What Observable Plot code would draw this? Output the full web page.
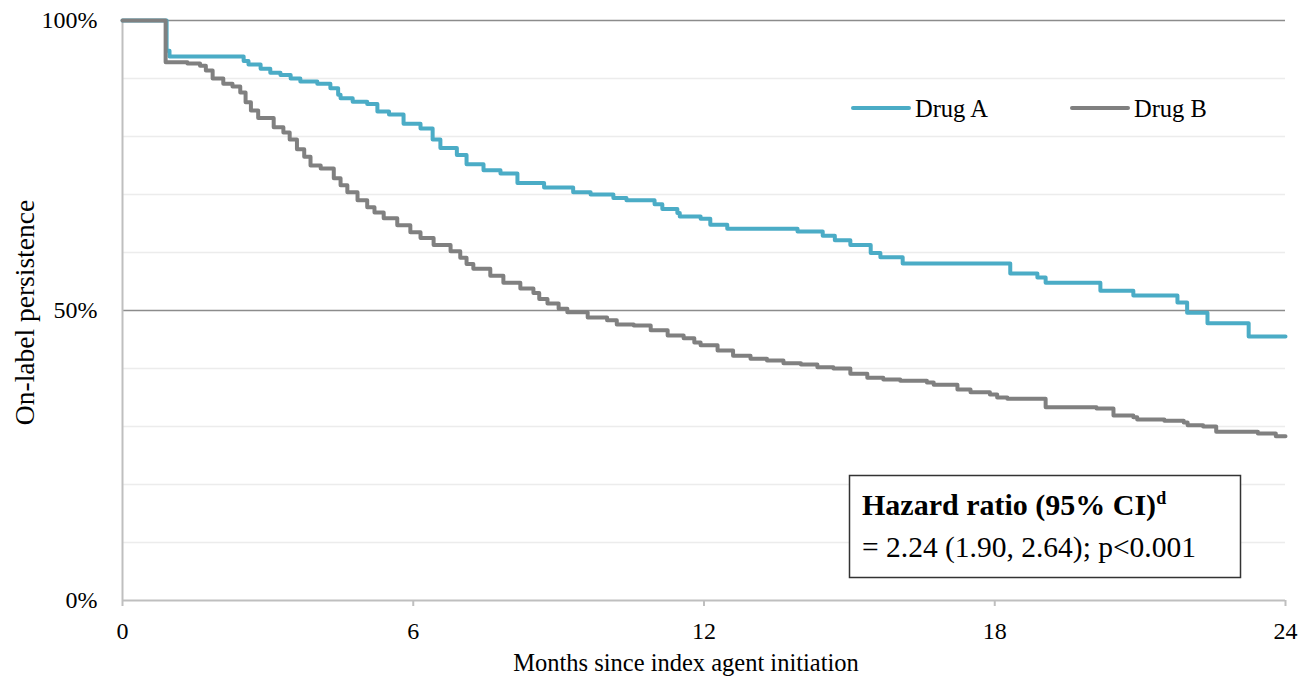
<!DOCTYPE html>
<html>
<head>
<meta charset="utf-8">
<script src="https://cdn.jsdelivr.net/npm/d3@7"></script>
<script src="https://cdn.jsdelivr.net/npm/@observablehq/plot@0.6"></script>
<style>
  html, body { margin: 0; padding: 0; background: #fff; }
  #wrap { position: relative; width: 1301px; height: 679px; font-family: "Liberation Serif", "Times New Roman", serif; }
  #overlay { position: absolute; left: 0; top: 0; pointer-events: none; }
</style>
</head>
<body>
<div id="wrap"></div>
<script>
// ---- data ----
const seriesNames = ["Drug A", "Drug B"];
const seriesColors = ["#4bacc6", "#808080"];

const drugA_months = [0, 0.91, 0.97, 2.5, 2.6, 2.85, 3.05, 3.26, 3.47, 3.67, 4.02, 4.29, 4.45, 4.5, 4.75, 5.05, 5.26, 5.5, 5.8, 6.15, 6.4, 6.56, 6.9, 7.1, 7.45, 7.8, 8.15, 8.7, 9.3, 9.66, 10.13, 10.4, 10.98, 11.14, 11.45, 11.5, 11.93, 12.13, 12.48, 13.93, 14.45, 14.7, 15.02, 15.44, 15.64, 16.1, 18.32, 18.88, 19.05, 20.18, 20.86, 21.77, 21.97, 22.39, 23.24, 24];
const drugA_pct = [100, 94.8, 93.8, 93.0, 92.4, 91.7, 91.0, 90.6, 90.0, 89.5, 89.1, 88.3, 87.2, 86.6, 86.0, 85.6, 84.3, 83.8, 82.2, 81.4, 79.5, 78.0, 76.8, 75.2, 74.2, 73.6, 72.0, 71.2, 70.4, 70.0, 69.4, 69.0, 68.3, 67.5, 66.8, 66.2, 65.8, 64.8, 64.1, 63.6, 62.9, 62.1, 61.3, 59.9, 59.2, 58.1, 56.4, 55.7, 54.8, 53.4, 52.6, 51.4, 49.6, 47.8, 45.5, 45.5];

const drugB_months = [0, 0.89, 1.34, 1.6, 1.72, 1.86, 2.08, 2.27, 2.43, 2.54, 2.65, 2.8, 3.12, 3.32, 3.45, 3.6, 3.75, 3.88, 4.09, 4.36, 4.5, 4.64, 4.85, 5.05, 5.2, 5.39, 5.67, 5.94, 6.15, 6.42, 6.77, 6.97, 7.1, 7.24, 7.59, 7.86, 8.21, 8.48, 8.6, 8.77, 9.0, 9.18, 9.6, 10.0, 10.2, 10.55, 10.9, 11.25, 11.58, 11.8, 11.93, 12.28, 12.6, 12.96, 13.3, 13.64, 14.0, 14.34, 14.67, 15.02, 15.37, 15.7, 16.05, 16.6, 16.74, 17.23, 17.5, 17.9, 18.05, 18.26, 19.05, 20.1, 20.45, 20.86, 20.94, 21.5, 21.9, 21.98, 22.3, 22.57, 23.43, 23.8, 24];
const drugB_pct = [100, 92.8, 92.6, 92.2, 91.4, 90.0, 89.1, 88.6, 87.6, 85.9, 84.5, 83.2, 81.6, 80.7, 79.5, 77.8, 76.5, 75.0, 74.5, 72.8, 71.6, 70.4, 69.0, 67.8, 66.9, 65.9, 64.7, 63.5, 62.5, 61.3, 60.2, 59.1, 58.0, 57.2, 56.0, 54.8, 53.8, 53.0, 52.0, 51.2, 50.3, 49.7, 48.8, 48.3, 47.6, 47.4, 46.6, 45.7, 45.2, 44.5, 44.0, 43.1, 42.2, 41.7, 41.4, 40.9, 40.7, 40.2, 40.0, 39.1, 38.4, 38.1, 37.9, 37.6, 37.2, 36.4, 35.9, 35.5, 35.0, 34.8, 33.3, 33.1, 31.9, 31.6, 31.2, 31.0, 30.7, 30.2, 30.0, 29.1, 28.8, 28.3, 28.3];

const xTicks = [0, 6, 12, 18, 24];
const yTicks = [0, 50, 100];
const minorGrid = [10, 20, 30, 40, 60, 70, 80, 90];
const majorGrid = [50, 100];

const xTitle = "Months since index agent initiation";
const yTitle = "On-label persistence";
const hrTitle = "Hazard ratio (95% CI)";
const hrSup = "d";
const hrText = "= 2.24 (1.90, 2.64); p<0.001";

// ---- build table ----
const rows = [];
drugA_months.forEach((t, i) => rows.push({drug: seriesNames[0], t, s: drugA_pct[i]}));
drugB_months.forEach((t, i) => rows.push({drug: seriesNames[1], t, s: drugB_pct[i]}));

const FONT = "'Liberation Serif', 'Times New Roman', serif";

const chart = Plot.plot({
  width: 1301,
  height: 679,
  marginLeft: 122,
  marginRight: 16,
  marginTop: 20,
  marginBottom: 79,
  style: {fontFamily: FONT, fontSize: "24px", color: "#000", background: "#fff"},
  x: {domain: [0, 24]},
  y: {domain: [0, 100]},
  color: {domain: seriesNames, range: seriesColors},
  marks: [
    Plot.ruleY(minorGrid, {stroke: "#ececec", strokeWidth: 1.5}),
    Plot.ruleY(majorGrid, {stroke: "#8c8c8c", strokeWidth: 1.5}),
    Plot.ruleX([0], {stroke: "#bfbfbf", strokeWidth: 2, y1: 0, y2: 100}),
    Plot.ruleY([0], {stroke: "#bfbfbf", strokeWidth: 2}),
    Plot.axisX({ticks: xTicks, tickSize: 6, tickPadding: 15, stroke: "#bfbfbf", strokeWidth: 2, fontSize: 24, fill: "#000", label: null}),
    Plot.axisY({ticks: yTicks, tickSize: 0, tickPadding: 25, tickFormat: d => d + "%", fontSize: 24, fill: "#000", label: null}),
    Plot.text([xTitle], {frameAnchor: "bottom", textAnchor: "middle", dx: -18, dy: 70, fontSize: 24.5, fill: "#000"}),
    Plot.text([yTitle], {frameAnchor: "left", textAnchor: "middle", rotate: -90, dx: -97, dy: 2, fontSize: 27.5, fill: "#000"}),
    Plot.line(rows, {x: "t", y: "s", stroke: "drug", z: "drug", curve: "step-after", strokeWidth: 4})
  ]
});

const wrap = document.getElementById("wrap");
wrap.appendChild(chart);

// ---- legend and hazard ratio box (overlay) ----
const ns = "http://www.w3.org/2000/svg";
const ov = document.createElementNS(ns, "svg");
ov.setAttribute("id", "overlay");
ov.setAttribute("width", 1301);
ov.setAttribute("height", 679);
ov.style.fontFamily = FONT;
wrap.appendChild(ov);

function el(name, attrs, text) {
  const e = document.createElementNS(ns, name);
  for (const k in attrs) e.setAttribute(k, attrs[k]);
  if (text != null) e.textContent = text;
  ov.appendChild(e);
  return e;
}

const legendX = [853, 1072];
seriesNames.forEach((name, i) => {
  el("line", {x1: legendX[i], x2: legendX[i] + 56, y1: 108, y2: 108, stroke: seriesColors[i], "stroke-width": 4, "stroke-linecap": "round"});
  el("text", {x: legendX[i] + 62, y: 117, "font-size": 24.5, fill: "#000"}, name);
});

el("rect", {x: 849.5, y: 475.5, width: 391, height: 102, fill: "#fff", stroke: "#333", "stroke-width": 1.5});
const t1 = el("text", {x: 862, y: 515, "font-size": 30, "font-weight": "bold", fill: "#000"}, hrTitle);
const sup = document.createElementNS(ns, "tspan");
sup.setAttribute("font-size", 18);
sup.setAttribute("dy", -11);
sup.textContent = hrSup;
t1.appendChild(sup);
el("text", {x: 862, y: 557, "font-size": 29.5, fill: "#000"}, hrText);
</script>
</body>
</html>
